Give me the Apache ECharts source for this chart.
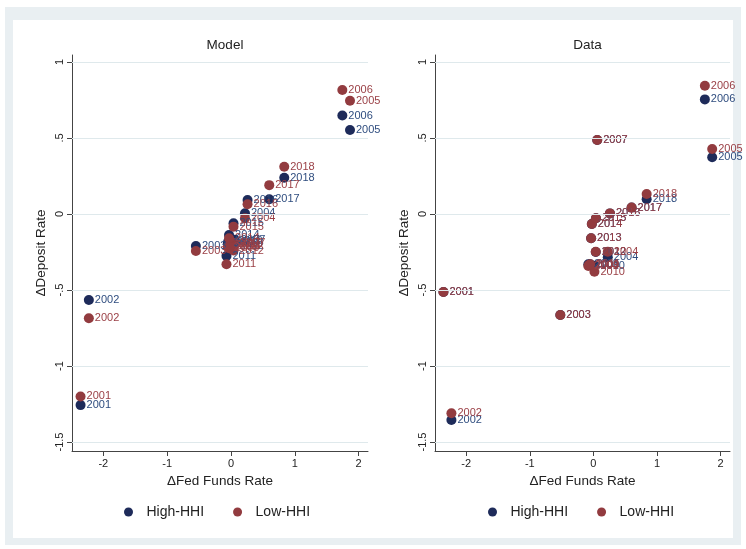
<!DOCTYPE html>
<html>
<head>
<meta charset="utf-8">
<script src="https://cdn.jsdelivr.net/npm/echarts@6/dist/echarts.min.js"></script>
<style>html,body{margin:0;padding:0;background:#fff}#c{width:746px;height:549px}</style>
</head>
<body>
<div id="c"></div>
<script>
// ---- data ----
const years = ['2001','2002','2003','2004','2005','2006','2007','2008','2009','2010','2011','2012','2013','2014','2015','2016','2017','2018'];
// Model panel
const modelFed  = [-2.356,-2.226,-0.549,0.22,1.865,1.745,0.06,-0.05,-0.03,0.02,-0.07,0.04,-0.01,-0.03,0.04,0.26,0.60,0.835];
const modelHigh = [-1.257,-0.566,-0.21,0.005,0.553,0.648,-0.17,-0.19,-0.20,-0.18,-0.276,-0.21,-0.185,-0.138,-0.061,0.092,0.097,0.239];
const modelLow  = [-1.20,-0.686,-0.243,-0.028,0.745,0.816,-0.19,-0.215,-0.225,-0.20,-0.33,-0.24,-0.21,-0.16,-0.083,0.064,0.19,0.311];
// Data panel
const dataFed   = [-2.357,-2.232,-0.52,0.226,1.867,1.752,0.06,-0.08,-0.07,0.016,-0.05,0.037,-0.036,-0.025,0.04,0.26,0.60,0.837];
const dataHigh  = [-0.513,-1.355,-0.664,-0.285,0.373,0.754,0.487,-0.33,-0.335,-0.34,-0.33,-0.25,-0.16,-0.066,-0.028,0.004,0.042,0.097];
const dataLow   = [-0.513,-1.311,-0.664,-0.248,0.428,0.844,0.487,-0.342,-0.335,-0.38,-0.33,-0.248,-0.16,-0.066,-0.028,0.004,0.042,0.132];
// ticks
const xTicks = [-2,-1,0,1,2];
const yTicks = [-1.5,-1,-0.5,0,0.5,1];
const panelTitles = ['Model','Data'];
const seriesNames = ['High-HHI','Low-HHI'];

// ---- styling ----
const NAVY = '#1e2b5a', NAVY_L = '#2f4d7f';
const MAROON = '#923b3f', MAROON_L = '#9a3f45';
const FONT = 'Liberation Sans, Arial, Helvetica, sans-serif';

function pts(xs, ys){ return xs.map((x,i)=>({value:[x, ys[i]], name: years[i]})); }
function stataFmt(v){
  let s = String(v);
  s = s.replace(/^0\./,'.').replace(/^-0\./,'-.');
  return s;
}

const grids = [
  {left:72, top:55, width:296, height:396},
  {left:435, top:55, width:295, height:396}
];
const xAxes = [0,1].map(i=>({
  type:'value', gridIndex:i, min:-2.49, max:2.147,
  axisLine:{show:true, onZero:false, lineStyle:{color:'#444', width:1}},
  axisTick:{show:true, customValues:xTicks, length:5, lineStyle:{color:'#444'}},
  axisLabel:{customValues:xTicks, formatter:stataFmt, color:'#222', fontSize:11, margin:7, fontFamily:FONT},
  splitLine:{show:false},
  name:'ΔFed Funds Rate', nameLocation:'middle', nameGap:23,
  nameTextStyle:{fontSize:13.5, color:'#222', fontFamily:FONT}
}));
const yAxes = [0,1].map(i=>({
  type:'value', gridIndex:i, min:-1.559, max:1.046,
  axisLine:{show:true, onZero:false, lineStyle:{color:'#444', width:1}},
  axisTick:{show:true, customValues:yTicks, length:5, lineStyle:{color:'#444'}},
  axisLabel:{customValues:yTicks, formatter:stataFmt, rotate:90, color:'#222', fontSize:11, margin:7, fontFamily:FONT},
  splitLine:{show:false},
  name:'ΔDeposit Rate', nameLocation:'middle', nameGap:24, nameRotate:90,
  nameTextStyle:{fontSize:13.5, color:'#222', fontFamily:FONT}
}));

function scatter(name, gi, xs, ys, color, lcolor){
  return {
    name, type:'scatter', xAxisIndex:gi, yAxisIndex:gi, z:3,
    symbol:'circle', symbolSize:10,
    itemStyle:{color, opacity:1},
    label:{show:true, position:'right', distance:1, formatter:'{b}', color:lcolor, fontSize:11, fontFamily:FONT},
    labelLayout:{hideOverlap:false},
    emphasis:{disabled:true},
    data: pts(xs, ys)
  };
}
function gridSeries(gi){
  return {
    type:'scatter', xAxisIndex:gi, yAxisIndex:gi, data:[], z:1, silent:true,
    markLine:{silent:true, symbol:'none', label:{show:false},
      lineStyle:{color:'#dfe9ec', width:1, type:'solid'},
      emphasis:{disabled:true},
      data: yTicks.map(v=>({yAxis:v}))}
  };
}

const option = {
  animation:false,
  backgroundColor:'#fff',
  textStyle:{fontFamily:FONT},
  graphic:[
    {type:'rect', shape:{x:5, y:7, width:736, height:538}, style:{fill:'#e9eff2'}, z:-10, silent:true},
    {type:'rect', shape:{x:13, y:20, width:720, height:518}, style:{fill:'#ffffff'}, z:-9, silent:true}
  ],
  title: panelTitles.map((t,i)=>({
    text:t, left: grids[i].left + grids[i].width/2, top:33, textAlign:'center',
    textStyle:{fontSize:13.5, fontWeight:'normal', color:'#222', fontFamily:FONT}
  })),
  legend: [119, 483].map(l=>({
    data:seriesNames, left:l, top:500, icon:'circle', itemWidth:26, itemHeight:9, itemGap:29,
    textStyle:{fontSize:14, color:'#222', fontFamily:FONT}, selectedMode:false
  })),
  grid: grids,
  xAxis: xAxes,
  yAxis: yAxes,
  series:[
    gridSeries(0), gridSeries(1),
    scatter(seriesNames[0], 0, modelFed, modelHigh, NAVY, NAVY_L),
    scatter(seriesNames[1], 0, modelFed, modelLow, MAROON, MAROON_L),
    scatter(seriesNames[0], 1, dataFed, dataHigh, NAVY, NAVY_L),
    scatter(seriesNames[1], 1, dataFed, dataLow, MAROON, MAROON_L)
  ]
};
echarts.init(document.getElementById('c'), null, {renderer:'canvas'}).setOption(option);
</script>
</body>
</html>
